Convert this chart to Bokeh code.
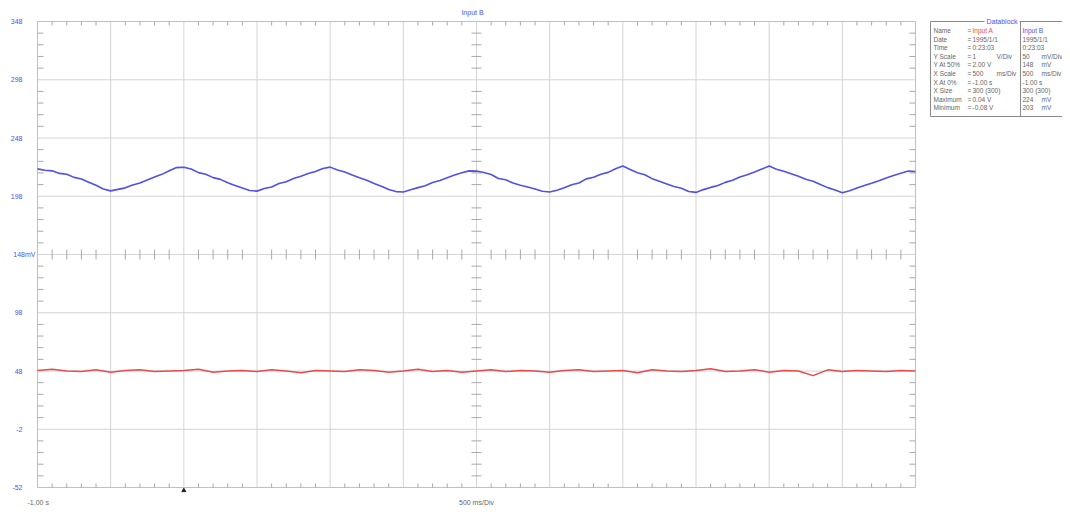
import numpy as np
from bokeh.plotting import figure
from bokeh.models import Range1d, ColumnDataSource
from bokeh.layouts import row
from bokeh.core.properties import value
from bokeh.embed import file_html
from bokeh.resources import INLINE

# ---------------- data ----------------
X_START, X_END = -1.0, 5.0          # s  (500 ms/Div, 12 divisions)
Y_BOTTOM, Y_TOP = -52.0, 348.0      # mV (50 mV/Div, 8 divisions, centre 148 mV)

x_div_ticks = [-1.0, -0.5, 0.0, 0.5, 1.0, 1.5, 2.0, 2.5, 3.0, 3.5, 4.0, 4.5, 5.0]
y_ticks = [348, 298, 248, 198, 148, 98, 48, -2, -52]
y_tick_labels = ["348", "298", "248", "198", "148mV", "98", "48", "-2", "-52"]

# Input B (mV), sampled every 0.05 s from -1.00 s
blue_step = 0.05
blue_mv = [
    221.5, 220.3, 219.8, 217.6, 216.9, 214.2, 212.8, 210.1, 207.4, 204.3,
    202.6, 203.9, 205.2, 207.6, 209.3, 212.0, 214.6, 216.8, 219.9, 222.6,
    222.9, 221.4, 218.3, 216.9, 214.0, 212.5, 209.6, 207.2, 205.1, 203.0,
    202.4, 204.6, 206.0, 208.9, 210.4, 213.3, 215.1, 217.6, 219.2, 221.8,
    223.0, 220.6, 218.9, 216.3, 213.8, 211.7, 208.9, 206.6, 203.8, 202.0,
    201.7, 203.5, 205.4, 207.1, 209.8, 211.6, 213.9, 216.2, 218.1, 219.8,
    219.6, 218.4, 216.7, 213.2, 212.1, 209.3, 207.4, 205.9, 204.2, 202.3,
    201.6, 203.1, 205.2, 207.8, 209.4, 212.9, 214.3, 216.9, 218.5, 221.6,
    224.0, 220.9, 218.2, 216.4, 213.1, 210.8, 208.6, 206.3, 204.9, 202.1,
    201.3, 203.7, 205.6, 207.2, 209.9, 211.8, 214.6, 216.4, 218.8, 221.3,
    223.9, 221.2, 219.4, 217.3, 215.2, 212.6, 210.9, 208.1, 205.4, 203.3,
    201.0, 202.8, 205.1, 207.3, 209.2, 211.4, 213.7, 215.9, 217.8, 219.6,
    219.2,
]

# Input A (V), sampled every 0.1 s from -1.00 s (1 V/Div, 2.00 V at centre)
red_step = 0.1
red_v = [
    0.01, 0.03, 0.00, -0.01, 0.02, -0.02, 0.01, 0.02, -0.01, 0.00,
    0.01, 0.03, -0.02, 0.00, 0.01, -0.01, 0.02, 0.00, -0.03, 0.01,
    0.00, -0.01, 0.02, 0.01, -0.02, 0.00, 0.03, -0.01, 0.01, -0.02,
    0.00, 0.02, -0.01, 0.01, 0.00, -0.02, 0.01, 0.02, -0.01, 0.00,
    0.01, -0.03, 0.02, 0.00, -0.01, 0.01, 0.04, -0.01, 0.00, 0.02,
    -0.02, 0.01, 0.00, -0.08, 0.02, -0.01, 0.01, 0.00, -0.01, 0.01,
    0.00,
]
A_CENTER_V, A_V_PER_DIV = 2.0, 1.0
B_CENTER_MV, B_MV_PER_DIV = 148.0, 50.0

# datablock
db_labels = ["Name", "Date", "Time", "Y Scale", "Y At 50%", "X Scale",
             "X At 0%", "X Size", "Maximum", "Minimum"]
db_a_val = ["Input A", "1995/1/1", "0:23:03", "1", "2.00 V", "500",
            "-1.00 s", "300 (300)", "0.04 V", "-0.08 V"]
db_a_unit = ["", "", "", "V/Div", "", "ms/Div", "", "", "", ""]
db_b_val = ["Input B", "1995/1/1", "0:23:03", "50", "148", "500",
            "-1.00 s", "300 (300)", "224", "203"]
db_b_unit = ["", "", "", "mV/Div", "mV", "ms/Div", "", "", "mV", "mV"]

# ---------------- styling ----------------
FONT = "Liberation Sans"
BLUE = "#5050ea"
RED = "#ec4848"
GRID = "#d4d4d4"
EDGE = "#c0c0c0"
TICK = "#a8a8a8"
TXT = "#666666"

W_MAIN, W_DB, H = 922, 140, 506
FR_L, FR_R, FR_T, FR_B = 37, 915, 21, 487        # plot area on the canvas
px_x = (FR_R - FR_L) / (X_END - X_START)          # px per s
px_y = (FR_B - FR_T) / (Y_TOP - Y_BOTTOM)         # px per mV

x_lo = X_START - FR_L / px_x
x_hi = X_START + (W_MAIN - FR_L) / px_x
y_hi = Y_TOP + FR_T / px_y
y_lo = Y_BOTTOM - (H - FR_B) / px_y

p = figure(width=W_MAIN, height=H, x_range=Range1d(x_lo, x_hi),
           y_range=Range1d(y_lo, y_hi), output_backend="svg",
           toolbar_location=None, x_axis_location=None, y_axis_location=None,
           min_border=0, min_border_left=0, min_border_right=0,
           min_border_top=0, min_border_bottom=0)
p.outline_line_color = None
p.grid.visible = False
p.background_fill_color = "white"
p.border_fill_color = "white"

# division grid
p.segment(x_div_ticks, Y_BOTTOM, x_div_ticks, Y_TOP, line_color=GRID, line_width=1)
p.segment(X_START, y_ticks, X_END, y_ticks, line_color=GRID, line_width=1)
# frame edges slightly darker
p.segment([X_START, X_END, X_START, X_START], [Y_BOTTOM, Y_BOTTOM, Y_TOP, Y_BOTTOM],
          [X_START, X_END, X_END, X_END], [Y_TOP, Y_TOP, Y_TOP, Y_BOTTOM],
          line_color=EDGE, line_width=1)

# minor tick marks (5 per division) on edges and centre lines
mx = np.array([X_START + 0.1 * k for k in range(1, 60) if k % 5])
my = np.array([Y_BOTTOM + 10.0 * k for k in range(1, 40) if k % 5])
x_mid = (X_START + X_END) / 2
y_mid = (Y_TOP + Y_BOTTOM) / 2
tl_e = 4 / px_y
tl_c = 5 / px_y
p.segment(mx, Y_TOP, mx, Y_TOP - tl_e, line_color=TICK, line_width=1)
p.segment(mx, Y_BOTTOM, mx, Y_BOTTOM + tl_e, line_color=TICK, line_width=1)
p.segment(mx, y_mid - tl_c, mx, y_mid + tl_c, line_color=TICK, line_width=1)
p.segment(X_START, my, X_START + 6 / px_x, my, line_color=TICK, line_width=1)
p.segment(X_END - 6 / px_x, my, X_END, my, line_color=TICK, line_width=1)
p.segment(x_mid - 5 / px_x, my, x_mid + 5 / px_x, my, line_color=TICK, line_width=1)

# traces
t_blue = X_START + blue_step * np.arange(len(blue_mv))
t_red = X_START + red_step * np.arange(len(red_v))
red_on_b = B_CENTER_MV + (np.array(red_v) - A_CENTER_V) / A_V_PER_DIV * B_MV_PER_DIV

p.line(t_red, red_on_b, line_color=RED, line_width=1.5)
p.line(t_blue, blue_mv, line_color=BLUE, line_width=1.6)

common = dict(text_font=value(FONT), text_font_size="7px", text_baseline="middle")

# y labels
lab_x = [X_START - (2 if "mV" in s else 15) / px_x for s in y_tick_labels]
p.text(x=lab_x, y=y_ticks, text=y_tick_labels, text_align="right",
       text_color=BLUE, **common)

# title and bottom texts
p.text(x=[X_START + 435 / px_x], y=[Y_TOP + 9 / px_y], text=["Input B"],
       text_align="center", text_color=BLUE, **common)
p.text(x=[X_START - 10 / px_x], y=[Y_BOTTOM - 15 / px_y], text=["-1.00 s"],
       text_align="left", text_color=TXT, **common)
p.text(x=[x_mid], y=[Y_BOTTOM - 15 / px_y], text=["500 ms/Div"],
       text_align="center", text_color=TXT, **common)
# trigger marker at t = 0
p.scatter(x=[0.0], y=[Y_BOTTOM - 3 / px_y], marker="triangle", size=4,
          fill_color="#222222", line_color="#222222")

# ---------------- datablock ----------------
q = figure(width=W_DB, height=H, x_range=Range1d(0, W_DB), y_range=Range1d(H, 0),
           output_backend="svg", toolbar_location=None, x_axis_location=None,
           y_axis_location=None, min_border=0, min_border_left=0,
           min_border_right=0, min_border_top=0, min_border_bottom=0)
q.outline_line_color = None
q.grid.visible = False

BOX_L, BOX_R, BOX_T, BOX_B, SEP = 8, 150, 21, 116, 98
q.segment([BOX_L, BOX_L, SEP, BOX_L, 97], [BOX_T, BOX_B, BOX_T, BOX_T, BOX_T],
          [BOX_L, BOX_R, SEP, 62, BOX_R], [BOX_B, BOX_B, BOX_B, BOX_T, BOX_T],
          line_color="#8a8a8a", line_width=1)
q.text([79.5], [20.5], text=["Datablock"], text_align="center",
       text_color=BLUE, **common)

n = len(db_labels)
rows_y = [30 + 8.6 * i for i in range(n)]
a_colors = [RED] + [TXT] * (n - 1)
b_colors = [BLUE] + [TXT] * (n - 1)
src = ColumnDataSource(dict(y=rows_y, lab=db_labels, eq=["="] * n, av=db_a_val,
                            au=db_a_unit, bv=db_b_val, bu=db_b_unit,
                            ac=a_colors, bc=b_colors))
dbf = dict(text_font=value(FONT), text_font_size="6.5px", text_baseline="middle")
q.text(x=11, y="y", text="lab", source=src, text_color=TXT, **dbf)
q.text(x=45, y="y", text="eq", source=src, text_color=TXT, **dbf)
q.text(x=50, y="y", text="av", source=src, text_color="ac", **dbf)
q.text(x=74, y="y", text="au", source=src, text_color=TXT, **dbf)
q.text(x=100, y="y", text="bv", source=src, text_color="bc", **dbf)
q.text(x=119, y="y", text="bu", source=src, text_color=TXT, **dbf)

layout = row(p, q, spacing=0)
open("out.html", "w").write(file_html(layout, INLINE))
